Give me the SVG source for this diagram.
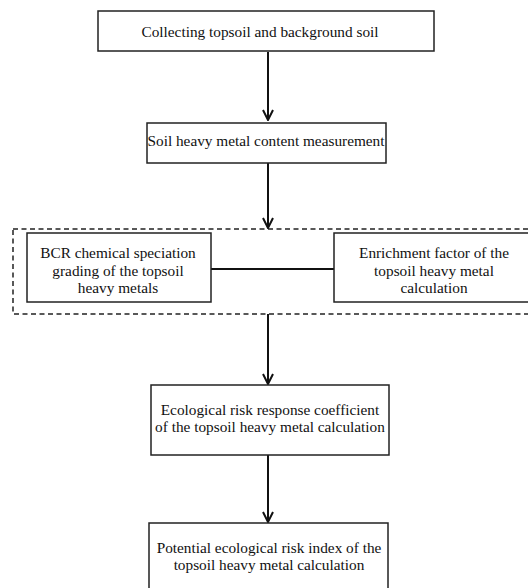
<svg xmlns="http://www.w3.org/2000/svg" width="528" height="588" viewBox="0 0 528 588">
<defs>
<marker id="arr" viewBox="0 0 12 12" refX="11" refY="6" markerWidth="12" markerHeight="12" markerUnits="userSpaceOnUse" orient="auto">
<path d="M1,1 L11,6 L1,11" fill="none" stroke="#111" stroke-width="2"/>
</marker>
</defs>
<style>
.box{fill:#fff;stroke:#222;stroke-width:1.5}
.dash{fill:none;stroke:#222;stroke-width:1.5;stroke-dasharray:5,3.5}
.t{font-family:"Liberation Serif","Times New Roman",serif;font-size:15.3px;fill:#111;text-anchor:middle}
.c{stroke:#111;stroke-width:2;fill:none}
</style>
<rect width="528" height="588" fill="#fff"/>
<g id="group-dashed"><rect class="dash" x="13" y="229" width="530" height="85"/></g>
<g id="connectors">
<line class="c" x1="268" y1="52" x2="268" y2="120" marker-end="url(#arr)"/>
<line class="c" x1="268" y1="163" x2="268" y2="228" marker-end="url(#arr)"/>
<line class="c" x1="211" y1="269" x2="334" y2="269"/>
<line class="c" x1="268" y1="314" x2="268" y2="384" marker-end="url(#arr)"/>
<line class="c" x1="268" y1="455" x2="268" y2="522" marker-end="url(#arr)"/>
</g>
<g id="n1"><rect class="box" x="98" y="11" width="336" height="40"/><text class="t" x="260" y="37">Collecting topsoil and background soil</text></g>
<g id="n2"><rect class="box" x="147" y="123" width="239" height="40"/><text class="t" x="266" y="146">Soil heavy metal content measurement</text></g>
<g id="n3"><rect class="box" x="27" y="233" width="184" height="69"/><text class="t" x="118" y="258">BCR chemical speciation</text><text class="t" x="118" y="276">grading of the topsoil</text><text class="t" x="118" y="293">heavy metals</text></g>
<g id="n4"><rect class="box" x="334" y="233" width="200" height="69"/><text class="t" x="434" y="258">Enrichment factor of the</text><text class="t" x="434" y="276">topsoil heavy metal</text><text class="t" x="434" y="293">calculation</text></g>
<g id="n5"><rect class="box" x="151" y="385" width="238" height="70"/><text class="t" x="270" y="415">Ecological risk response coefficient</text><text class="t" x="270" y="432">of the topsoil heavy metal calculation</text></g>
<g id="n6"><rect class="box" x="149" y="523" width="239" height="80"/><text class="t" x="269" y="553">Potential ecological risk index of the</text><text class="t" x="269" y="570">topsoil heavy metal calculation</text></g>
</svg>
